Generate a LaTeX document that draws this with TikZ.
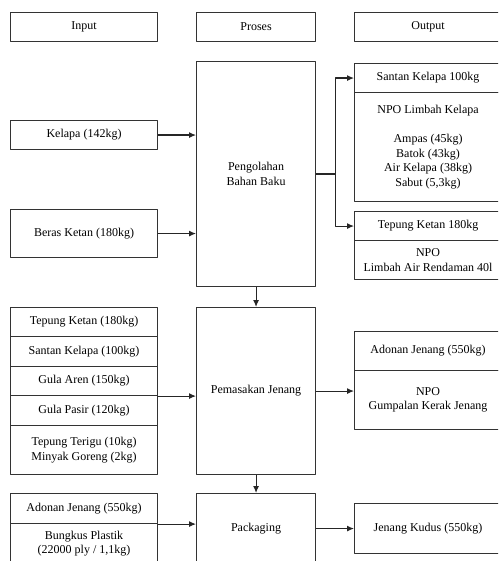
\documentclass[tikz,border=0pt]{standalone}
\usepackage{fontspec}
\setmainfont{Liberation Serif}
\usetikzlibrary{arrows.meta}
\tikzset{kotak/.style 2 args={draw=black!80, line width=1.1pt, minimum width=#1,
    minimum height=#2, anchor=north west, align=center, inner sep=1pt},
  panah/.style={->, draw=black!85, line width=1.1pt}}
\begin{document}
\begin{tikzpicture}[x=1pt, y=-1pt, font=\fontsize{12}{14.5}\selectfont,
    line join=round, >={Latex[length=7pt,width=6pt]}]
    \useasboundingbox (0,0) rectangle (498,561);
    \clip (0,0) rectangle (498,561);
    % judul kolom
    \node[kotak={147pt}{29pt}] (judulin) at (10,12) {Input};
    \node[kotak={119pt}{29pt}] (judulpros) at (196,12) {Proses};
    \node[kotak={147pt}{29pt}] (judulout) at (354,12) {Output};
    % tahap 1
    \node[kotak={147pt}{29pt}] (kelapa) at (10,120) {Kelapa (142kg)};
    \node[kotak={147pt}{48pt}] (beras) at (10,209) {Beras Ketan (180kg)};
    \node[kotak={119pt}{225pt}] (olah) at (196,61) {Pengolahan\\Bahan Baku};
    \node[kotak={147pt}{29pt}] (santan) at (354,63) {Santan Kelapa 100kg};
    \node[kotak={147pt}{109pt}] (npokelapa) at (354,92)
    {NPO Limbah Kelapa\\[14.5pt]Ampas (45kg)\\Batok (43kg)\\Air Kelapa (38kg)\\Sabut (5,3kg)};
    \node[kotak={147pt}{29pt}] (tepung) at (354,211) {Tepung Ketan 180kg};
    \node[kotak={147pt}{39pt}] (npoair) at (354,240) {NPO\\Limbah Air Rendaman 40l};
    % tahap 2
    \node[kotak={147pt}{29pt}] (tk) at (10,307) {Tepung Ketan (180kg)};
    \node[kotak={147pt}{30pt}] (sk) at (10,336) {Santan Kelapa (100kg)};
    \node[kotak={147pt}{29pt}] (ga) at (10,366) {Gula Aren (150kg)};
    \node[kotak={147pt}{30pt}] (gp) at (10,395) {Gula Pasir (120kg)};
    \node[kotak={147pt}{49pt}] (tt) at (10,425) {Tepung Terigu (10kg)\\Minyak Goreng (2kg)};
    \node[kotak={119pt}{167pt}] (masak) at (196,307) {Pemasakan Jenang};
    \node[kotak={147pt}{39pt}] (adonanout) at (354,331) {Adonan Jenang (550kg)};
    \node[kotak={147pt}{59pt}] (kerak) at (354,370) {NPO\\Gumpalan Kerak Jenang};
    % tahap 3
    \node[kotak={147pt}{30pt}] (adonanin) at (10,493) {Adonan Jenang (550kg)};
    \node[kotak={147pt}{40pt}] (bungkus) at (10,523) {Bungkus Plastik\\(22000 ply / 1,1kg)};
    \node[kotak={119pt}{70pt}] (pack) at (196,493) {Packaging};
    \node[kotak={147pt}{50pt}] (kudus) at (354,503) {Jenang Kudus (550kg)};
    % panah
    \draw[panah] (kelapa.east) -- (kelapa.east -| olah.west);
    \draw[panah] (beras.east) -- (beras.east -| olah.west);
    \draw[panah] (olah.east) -- ++(19,0) |- (santan.west);
    \draw[panah] (olah.east) -- ++(19,0) |- (tepung.west);
    \draw[panah] (olah.south) -- (masak.north);
    \draw[panah] (ga.south east) -- (ga.south east -| masak.west);
    \draw[panah] (masak.east) -- (masak.east -| adonanout.west);
    \draw[panah] (masak.south) -- (pack.north);
    \draw[panah] (adonanin.south east) -- (adonanin.south east -| pack.west);
    \draw[panah] (pack.east) -- (kudus.west);
\end{tikzpicture}
\end{document}
